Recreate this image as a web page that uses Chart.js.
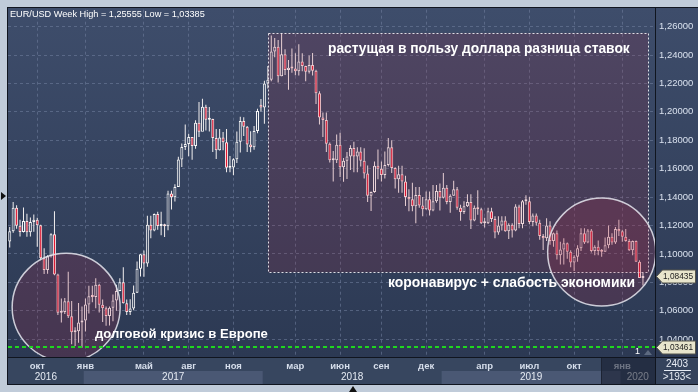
<!DOCTYPE html>
<html>
<head>
<meta charset="utf-8">
<script src="https://cdn.jsdelivr.net/npm/chart.js@4.4.1/dist/chart.umd.min.js"></script>
<style>
    html, body { margin: 0; padding: 0; background: #c0cbd9; }
    canvas { display: block; }
</style>
</head>
<body>
<canvas id="chart" width="698" height="392"></canvas>
<script>
// EUR/USD weekly candles, first bar = week of 2016-08-08
const START_WEEK = Date.UTC(2016, 7, 8);

const open = [
    1.1087, 1.1159, 1.1324, 1.1198, 1.1154, 1.1232, 1.1153, 1.1225, 1.1241, 1.1202,
    1.0970, 1.0886, 1.0984, 1.1138, 1.0854, 1.0586, 1.0590, 1.0666, 1.0561, 1.0448,
    1.0455, 1.0517, 1.0531, 1.0644, 1.0701, 1.0697, 1.0783, 1.0641, 1.0617, 1.0562,
    1.0620, 1.0671, 1.0739, 1.0800, 1.0653, 1.0590, 1.0615, 1.0727, 1.0895, 1.0998,
    1.0933, 1.1205, 1.1165, 1.1280, 1.1196, 1.1198, 1.1195, 1.1425, 1.1398, 1.1471,
    1.1665, 1.1752, 1.1774, 1.1822, 1.1760, 1.1923, 1.1860, 1.2035, 1.1945, 1.1950,
    1.1815, 1.1730, 1.1820, 1.1785, 1.1606, 1.1608, 1.1666, 1.1790, 1.1935, 1.1895,
    1.1770, 1.1750, 1.1865, 1.2050, 1.2030, 1.2200, 1.2225, 1.2425, 1.2458, 1.2250,
    1.2405, 1.2295, 1.2310, 1.2305, 1.2285, 1.2355, 1.2323, 1.2282, 1.2330, 1.2290,
    1.2130, 1.1960, 1.1943, 1.1775, 1.1660, 1.1660, 1.1768, 1.1610, 1.1655, 1.1685,
    1.1745, 1.1685, 1.1720, 1.1655, 1.1565, 1.1410, 1.1435, 1.1620, 1.1600, 1.1555,
    1.1625, 1.1750, 1.1605, 1.1525, 1.1560, 1.1510, 1.1400, 1.1385, 1.1335, 1.1415,
    1.1340, 1.1315, 1.1385, 1.1305, 1.1370, 1.1443, 1.1395, 1.1465, 1.1365, 1.1410,
    1.1455, 1.1325, 1.1295, 1.1335, 1.1365, 1.1235, 1.1325, 1.1315, 1.1215, 1.1215,
    1.1300, 1.1245, 1.1150, 1.1200, 1.1235, 1.1160, 1.1205, 1.1165, 1.1333, 1.1210,
    1.1370, 1.1370, 1.1225, 1.1270, 1.1220, 1.1125, 1.1110, 1.1200, 1.1090, 1.1145,
    1.0990, 1.1030, 1.1075, 1.1015, 1.0940, 1.0980, 1.1040, 1.1145, 1.1080, 1.1165,
    1.1020, 1.1050, 1.1020, 1.1015, 1.1060, 1.1120, 1.1080, 1.1175, 1.1160, 1.1120,
    1.1090, 1.1025, 1.1090, 1.0945, 1.0830
];
const high = [
    1.1189, 1.1366, 1.1342, 1.1240, 1.1327, 1.1283, 1.1256, 1.1278, 1.1255, 1.1205,
    1.1039, 1.0990, 1.1146, 1.1300, 1.0860, 1.0686, 1.0690, 1.0874, 1.0669, 1.0484,
    1.0654, 1.0630, 1.0685, 1.0775, 1.0775, 1.0829, 1.0790, 1.0679, 1.0630, 1.0630,
    1.0714, 1.0782, 1.0828, 1.0906, 1.0679, 1.0680, 1.0778, 1.0947, 1.0998, 1.1023,
    1.1268, 1.1268, 1.1285, 1.1296, 1.1296, 1.1212, 1.1445, 1.1445, 1.1490, 1.1683,
    1.1777, 1.1910, 1.1846, 1.1823, 1.1940, 1.2070, 1.2092, 1.2050, 1.2034, 1.1952,
    1.1880, 1.1880, 1.1858, 1.1880, 1.1689, 1.1673, 1.1861, 1.1965, 1.1961, 1.1900,
    1.1863, 1.1900, 1.2022, 1.2090, 1.2219, 1.2323, 1.2537, 1.2520, 1.2505, 1.2555,
    1.2440, 1.2365, 1.2446, 1.2413, 1.2476, 1.2413, 1.2324, 1.2396, 1.2414, 1.2297,
    1.2145, 1.1996, 1.1996, 1.1784, 1.1725, 1.1840, 1.1852, 1.1675, 1.1717, 1.1765,
    1.1790, 1.1750, 1.1750, 1.1743, 1.1622, 1.1440, 1.1650, 1.1735, 1.1650, 1.1720,
    1.1815, 1.1800, 1.1610, 1.1620, 1.1620, 1.1550, 1.1455, 1.1500, 1.1470, 1.1470,
    1.1400, 1.1440, 1.1440, 1.1485, 1.1485, 1.1495, 1.1570, 1.1485, 1.1420, 1.1515,
    1.1470, 1.1345, 1.1370, 1.1420, 1.1420, 1.1340, 1.1448, 1.1325, 1.1255, 1.1325,
    1.1325, 1.1265, 1.1265, 1.1265, 1.1265, 1.1215, 1.1215, 1.1349, 1.1345, 1.1380,
    1.1412, 1.1400, 1.1285, 1.1285, 1.1240, 1.1140, 1.1250, 1.1230, 1.1150, 1.1165,
    1.1085, 1.1110, 1.1080, 1.1025, 1.0990, 1.1060, 1.1180, 1.1180, 1.1175, 1.1175,
    1.1060, 1.1095, 1.1035, 1.1115, 1.1200, 1.1145, 1.1190, 1.1240, 1.1170, 1.1175,
    1.1105, 1.1095, 1.1095, 1.0955, 1.0865
];
const low = [
    1.1045, 1.1149, 1.1177, 1.1123, 1.1150, 1.1121, 1.1123, 1.1156, 1.1050, 1.0956,
    1.0859, 1.0860, 1.0975, 1.0850, 1.0569, 1.0517, 1.0576, 1.0548, 1.0364, 1.0352,
    1.0374, 1.0340, 1.0454, 1.0581, 1.0659, 1.0618, 1.0588, 1.0521, 1.0494, 1.0495,
    1.0525, 1.0599, 1.0737, 1.0650, 1.0570, 1.0570, 1.0604, 1.0725, 1.0840, 1.0839,
    1.0910, 1.1110, 1.1160, 1.1170, 1.1131, 1.1119, 1.1166, 1.1313, 1.1369, 1.1478,
    1.1612, 1.1731, 1.1688, 1.1662, 1.1740, 1.1823, 1.1880, 1.1869, 1.1861, 1.1717,
    1.1668, 1.1728, 1.1730, 1.1574, 1.1574, 1.1553, 1.1640, 1.1714, 1.1830, 1.1717,
    1.1716, 1.1733, 1.1849, 1.2003, 1.1916, 1.2165, 1.2215, 1.2385, 1.2206, 1.2250,
    1.2260, 1.2155, 1.2275, 1.2257, 1.2255, 1.2286, 1.2215, 1.2270, 1.2255, 1.2055,
    1.1910, 1.1823, 1.1717, 1.1644, 1.1510, 1.1640, 1.1542, 1.1508, 1.1527, 1.1590,
    1.1575, 1.1575, 1.1615, 1.1530, 1.1365, 1.1301, 1.1430, 1.1525, 1.1510, 1.1530,
    1.1615, 1.1570, 1.1460, 1.1430, 1.1430, 1.1337, 1.1300, 1.1300, 1.1215, 1.1325,
    1.1265, 1.1310, 1.1270, 1.1300, 1.1360, 1.1305, 1.1390, 1.1350, 1.1290, 1.1410,
    1.1310, 1.1234, 1.1280, 1.1330, 1.1175, 1.1230, 1.1275, 1.1210, 1.1185, 1.1210,
    1.1225, 1.1110, 1.1135, 1.1165, 1.1155, 1.1105, 1.1115, 1.1160, 1.1180, 1.1180,
    1.1345, 1.1208, 1.1195, 1.1200, 1.1100, 1.1028, 1.1090, 1.1065, 1.1050, 1.0960,
    1.0925, 1.0925, 1.0965, 1.0905, 1.0880, 1.0945, 1.1020, 1.1070, 1.1075, 1.1010,
    1.0990, 1.0990, 1.0980, 1.1015, 1.1040, 1.1065, 1.1070, 1.1125, 1.1085, 1.1085,
    1.1020, 1.0990, 1.0945, 1.0830, 1.0778
];
const close = [
    1.1159, 1.1324, 1.1198, 1.1154, 1.1232, 1.1153, 1.1225, 1.1241, 1.1202, 1.0970,
    1.0886, 1.0984, 1.1138, 1.0854, 1.0586, 1.0590, 1.0666, 1.0561, 1.0448, 1.0455,
    1.0517, 1.0531, 1.0644, 1.0701, 1.0697, 1.0783, 1.0641, 1.0617, 1.0562, 1.0620,
    1.0671, 1.0739, 1.0800, 1.0653, 1.0590, 1.0615, 1.0727, 1.0895, 1.0998, 1.0933,
    1.1205, 1.1165, 1.1280, 1.1196, 1.1198, 1.1195, 1.1425, 1.1398, 1.1471, 1.1665,
    1.1752, 1.1774, 1.1822, 1.1760, 1.1923, 1.1860, 1.2035, 1.1945, 1.1950, 1.1815,
    1.1730, 1.1820, 1.1785, 1.1606, 1.1608, 1.1666, 1.1790, 1.1935, 1.1895, 1.1770,
    1.1750, 1.1865, 1.2005, 1.2030, 1.2200, 1.2225, 1.2425, 1.2458, 1.2250, 1.2405,
    1.2295, 1.2310, 1.2305, 1.2285, 1.2355, 1.2323, 1.2282, 1.2330, 1.2290, 1.2130,
    1.1960, 1.1943, 1.1775, 1.1660, 1.1660, 1.1768, 1.1610, 1.1655, 1.1685, 1.1745,
    1.1685, 1.1720, 1.1655, 1.1565, 1.1410, 1.1435, 1.1620, 1.1600, 1.1555, 1.1625,
    1.1750, 1.1605, 1.1525, 1.1560, 1.1510, 1.1400, 1.1385, 1.1335, 1.1415, 1.1340,
    1.1315, 1.1385, 1.1305, 1.1370, 1.1443, 1.1395, 1.1465, 1.1365, 1.1410, 1.1455,
    1.1325, 1.1295, 1.1335, 1.1365, 1.1235, 1.1325, 1.1315, 1.1215, 1.1215, 1.1300,
    1.1245, 1.1150, 1.1200, 1.1235, 1.1160, 1.1205, 1.1165, 1.1333, 1.1210, 1.1370,
    1.1370, 1.1225, 1.1270, 1.1220, 1.1125, 1.1110, 1.1200, 1.1090, 1.1145, 1.0990,
    1.1030, 1.1075, 1.1015, 1.0940, 1.0980, 1.1040, 1.1145, 1.1080, 1.1165, 1.1020,
    1.1050, 1.1020, 1.1015, 1.1060, 1.1120, 1.1080, 1.1175, 1.1160, 1.1120, 1.1090,
    1.1025, 1.1090, 1.0945, 1.0830, 1.0843
];

// axis labels
const monthTickWeeks = ['2016-10-03', '2017-01-09', '2017-05-08', '2017-08-07', '2017-11-06', '2018-03-12',
    '2018-06-11', '2018-09-03', '2018-12-03', '2019-04-01', '2019-07-01', '2019-09-30', '2020-01-06'];
const monthTickLabels = ['окт', 'янв', 'май', 'авг', 'ноя', 'мар', 'июн', 'сен', 'дек', 'апр', 'июл', 'окт', 'янв'];
const years = ['2016', '2017', '2018', '2019', '2020'];
const yearStartWeeks = ['2017-01-09', '2018-01-08', '2019-01-07', '2020-01-06'];

// marked levels
const lastPrice = 1.08435;
const supportLevel = 1.03461;
const weekHigh = 1.25555;
const weekLow = 1.03385;

const FONT = "'Liberation Sans', Arial, sans-serif";
const BG_TOP = '#3e4d6b';
const BG_BOTTOM = '#2c3953';
const GRID = 'rgba(115, 130, 160, 0.55)';

const weeks = open.map((_, i) => new Date(START_WEEK + i * 7 * 864e5).toISOString().slice(0, 10));
const labels = weeks.concat(['e1', 'e2', 'e3']);   // empty slots at the right edge
const monthAt = {};
monthTickWeeks.forEach((w, k) => { monthAt[weeks.indexOf(w)] = monthTickLabels[k]; });

const fmt = (v) => v.toFixed(5).replace('.', ',');
const isStep = (v) => Math.abs(v * 50 - Math.round(v * 50)) < 1e-6;

function bgGradient(ctx) {
    const g = ctx.createLinearGradient(0, 8, 0, 357);
    g.addColorStop(0, BG_TOP);
    g.addColorStop(1, BG_BOTTOM);
    return g;
}

function fitText(ctx, text, x, y, width, weight) {
    ctx.font = `${weight} 20px ${FONT}`;
    const size = 20 * width / ctx.measureText(text).width;
    ctx.font = `${weight} ${size.toFixed(2)}px ${FONT}`;
    ctx.textAlign = 'left';
    ctx.textBaseline = 'middle';
    ctx.fillText(text, x, y);
}

function priceTag(ctx, text, y) {
    ctx.beginPath();
    ctx.moveTo(656.5, y);
    ctx.lineTo(662.5, y - 6.5);
    ctx.lineTo(695.5, y - 6.5);
    ctx.lineTo(695.5, y + 6.5);
    ctx.lineTo(662.5, y + 6.5);
    ctx.closePath();
    ctx.fillStyle = '#e8e5cc';
    ctx.fill();
    ctx.strokeStyle = '#55554c';
    ctx.lineWidth = 1;
    ctx.stroke();
    ctx.fillStyle = '#1c1c1c';
    fitText(ctx, text, 663, y + 0.5, 30, 'normal');
}

const decorations = {
    id: 'decorations',
    beforeDraw(chart) {
        const { ctx } = chart;
        const xs = chart.scales.x;
        ctx.save();
        ctx.fillStyle = '#c0cbd9';
        ctx.fillRect(0, 0, 698, 392);
        ctx.fillStyle = bgGradient(ctx);
        ctx.fillRect(8, 8, 690, 349);
        // time axis rows
        ctx.fillStyle = '#37465f';
        ctx.fillRect(8, 357, 647, 27);
        ctx.fillStyle = '#4a5874';
        const edges = [8].concat(yearStartWeeks.map(w => xs.getPixelForValue(weeks.indexOf(w) - 0.5)), [655]);
        [1, 3].forEach(k => ctx.fillRect(edges[k], 371, edges[k + 1] - edges[k], 13));
        ctx.fillStyle = '#35435c';
        ctx.fillRect(656, 357, 42, 27);
        ctx.restore();
    },
    afterDatasetsDraw(chart) {
        const { ctx, chartArea: a } = chart;
        const xs = chart.scales.x, ys = chart.scales.y;
        ctx.save();
        ctx.beginPath();
        ctx.rect(a.left, a.top, a.right - a.left, a.bottom - a.top);
        ctx.clip();

        // shaded zone of the dollar rally
        const rx0 = xs.getPixelForValue(75), rx1 = xs.getPixelForValue(185.5);
        const ry0 = ys.getPixelForValue(weekHigh), ry1 = ys.getPixelForValue(1.0870);
        ctx.fillStyle = 'rgba(175, 40, 60, 0.16)';
        ctx.fillRect(rx0, ry0, rx1 - rx0, ry1 - ry0);
        ctx.setLineDash([2, 2]);
        ctx.strokeStyle = 'rgba(240, 240, 245, 0.9)';
        ctx.lineWidth = 1;
        ctx.strokeRect(Math.round(rx0) + 0.5, Math.round(ry0) + 0.5, Math.round(rx1 - rx0), Math.round(ry1 - ry0));
        ctx.setLineDash([]);

        // circles
        [[16.4, 1.0624], [172, 1.1013]].forEach(([i, v]) => {
            ctx.beginPath();
            ctx.arc(xs.getPixelForValue(i), ys.getPixelForValue(v), 54, 0, Math.PI * 2);
            ctx.fillStyle = 'rgba(175, 40, 70, 0.2)';
            ctx.fill();
            ctx.strokeStyle = 'rgba(230, 230, 238, 0.85)';
            ctx.lineWidth = 1.5;
            ctx.stroke();
        });

        // support level
        const gy = Math.round(ys.getPixelForValue(supportLevel));
        ctx.setLineDash([4, 3]);
        ctx.strokeStyle = '#1fd61f';
        ctx.lineWidth = 2;
        ctx.beginPath();
        ctx.moveTo(a.left, gy);
        ctx.lineTo(a.right, gy);
        ctx.stroke();
        ctx.setLineDash([]);

        // notes
        ctx.fillStyle = '#ffffff';
        fitText(ctx, 'растущая в пользу доллара разница ставок', 328, 49, 302, 'bold');
        fitText(ctx, 'коронавирус + слабость экономики', 388, 283, 247, 'bold');
        fitText(ctx, 'долговой кризис в Европе', 95, 334, 173, 'bold');

        ctx.font = `9px ${FONT}`;
        ctx.textAlign = 'left';
        ctx.textBaseline = 'middle';
        ctx.fillText('1', 635, 352);
        ctx.fillStyle = '#5d6a80';
        ctx.beginPath();
        ctx.moveTo(644, 355); ctx.lineTo(648, 350); ctx.lineTo(652, 355);
        ctx.fill();
        ctx.restore();

        ctx.save();
        ctx.fillStyle = '#ffffff';
        fitText(ctx, `EUR/USD Week High = ${fmt(weekHigh)} Low = ${fmt(weekLow)}`, 10, 14, 195, 'normal');

        priceTag(ctx, fmt(lastPrice), Math.round(ys.getPixelForValue(lastPrice)) + 0.5);
        priceTag(ctx, fmt(supportLevel), gy + 0.5);
        ctx.restore();
    },
    afterDraw(chart) {
        const { ctx } = chart;
        const xs = chart.scales.x;
        ctx.save();
        // year labels
        const edges = [8].concat(yearStartWeeks.map(w => xs.getPixelForValue(weeks.indexOf(w) - 0.5)), [655]);
        ctx.font = `10px ${FONT}`;
        ctx.textAlign = 'center';
        ctx.textBaseline = 'middle';
        ctx.fillStyle = '#e6ebf3';
        years.forEach((y, k) => ctx.fillText(y, (edges[k] + edges[k + 1]) / 2, 377.5));
        // current period shade on the time axis
        ctx.fillStyle = 'rgba(22, 28, 44, 0.55)';
        ctx.fillRect(602, 357, 53, 27);
        ctx.fillStyle = '#1c2333';
        ctx.fillRect(601, 358, 1, 26);

        // frame lines
        ctx.fillStyle = '#10151f';
        ctx.fillRect(7, 7, 691, 1);
        ctx.fillRect(7, 7, 1, 378);
        ctx.fillRect(655, 8, 1, 377);
        ctx.fillRect(8, 357, 690, 1);
        ctx.fillRect(7, 384, 691, 1);

        // bar counters
        ctx.fillStyle = '#e6ebf3';
        ctx.font = `10px ${FONT}`;
        ctx.fillText('2403', 677, 364);
        ctx.fillText('>193<', 677, 377);
        ctx.fillRect(664, 370, 27, 1);

        // small markers
        ctx.fillStyle = '#111111';
        ctx.beginPath();
        ctx.moveTo(1, 192); ctx.lineTo(6, 196); ctx.lineTo(1, 200);
        ctx.fill();
        ctx.beginPath();
        ctx.moveTo(349, 392); ctx.lineTo(353, 386); ctx.lineTo(357, 392);
        ctx.fill();
        ctx.restore();
    }
};

new Chart(document.getElementById('chart'), {
    type: 'bar',
    data: {
        labels,
        datasets: [
            {
                label: 'wick',
                data: low.map((l, i) => [l, high[i]]),
                backgroundColor: '#f3f0f0',
                barThickness: 1,
                grouped: false,
                inflateAmount: 0,
                order: 2,
            },
            {
                label: 'body',
                data: open.map((o, i) => [o, close[i]]),
                backgroundColor: (c) => close[c.dataIndex] >= open[c.dataIndex] ? bgGradient(c.chart.ctx) : '#e3102c',
                borderColor: (c) => close[c.dataIndex] >= open[c.dataIndex] ? '#f8f8f8' : '#ffe2e2',
                borderWidth: 1,
                borderSkipped: false,
                barThickness: 3,
                minBarLength: 2,
                grouped: false,
                inflateAmount: 0,
                order: 1,
            },
        ],
    },
    options: {
        responsive: false,
        animation: false,
        layout: { padding: { left: 8, top: 8, right: 0, bottom: 7 } },
        plugins: {
            legend: { display: false },
            tooltip: { enabled: false },
        },
        scales: {
            x: {
                type: 'category',
                offset: true,
                grid: {
                    offset: false,
                    drawTicks: false,
                    color: (c) => monthAt[c.index] ? GRID : 'transparent',
                },
                border: { display: false, dash: [3, 3] },
                ticks: {
                    autoSkip: false,
                    maxRotation: 0,
                    minRotation: 0,
                    padding: 4,
                    color: '#d6deeb',
                    font: { family: FONT, size: 9.5, weight: 'bold' },
                    callback: (v, i) => monthAt[i] || '',
                },
                afterFit: (s) => { s.height = 28; },
            },
            y: {
                position: 'right',
                min: 1.0274,
                max: 1.2719,
                grid: {
                    drawTicks: false,
                    color: (c) => c.tick && isStep(c.tick.value) ? GRID : 'transparent',
                },
                border: { display: false, dash: [3, 3] },
                ticks: {
                    stepSize: 0.02,
                    padding: 4,
                    color: '#d9e1ee',
                    font: { family: FONT, size: 9.5 },
                    callback: (v) => isStep(v) ? fmt(v) : '',
                },
                afterFit: (s) => { s.width = 43; },
            },
        },
    },
    plugins: [decorations],
});
</script>
</body>
</html>
